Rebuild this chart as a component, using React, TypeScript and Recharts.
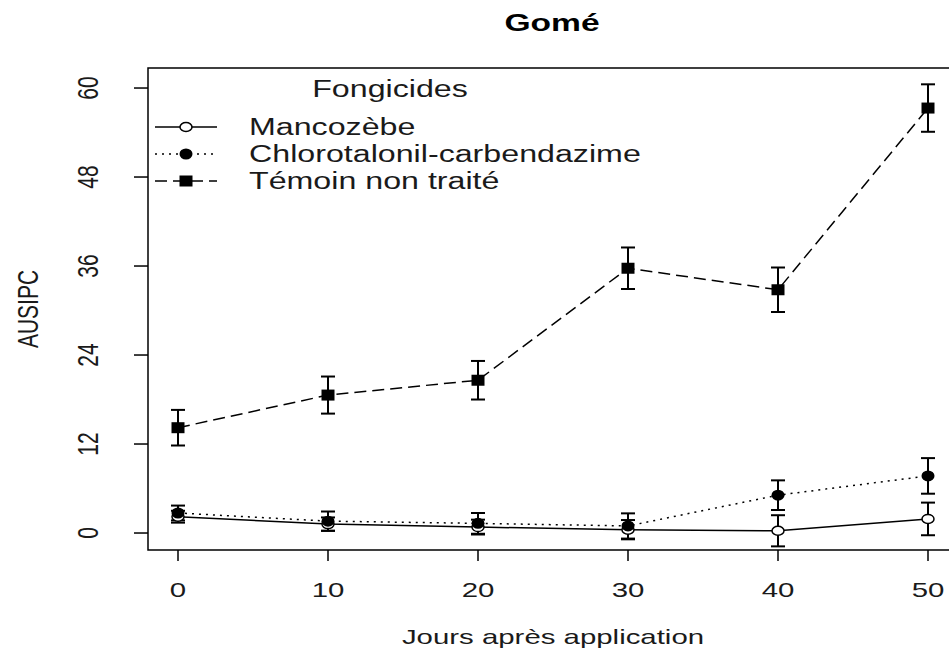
import React from 'react';
import { LineChart, Line, XAxis, YAxis, ErrorBar, ReferenceArea, Legend } from 'recharts';

// Jours après application
const days = [0, 10, 20, 30, 40, 50];
// AUSIPC, moyenne et erreur par fongicide
const mancozebe = [2.2, 1.2, 0.8, 0.45, 0.3, 1.9];
const mancozebeErr = [0.8, 0.9, 1.0, 1.3, 2.1, 2.2];
const chloro = [2.7, 1.6, 1.3, 0.95, 5.1, 7.7];
const chloroErr = [1.0, 1.3, 1.4, 1.7, 2.0, 2.4];
const temoin = [14.2, 18.6, 20.6, 35.7, 32.8, 57.3];
const temoinErr = [2.4, 2.5, 2.6, 2.8, 3.0, 3.2];
const xTicks = [0, 10, 20, 30, 40, 50];
const yTicks = [0, 12, 24, 36, 48, 60];

const data = days.map((d, i) => ({
  day: d,
  mancozebe: mancozebe[i],
  mancozebeErr: mancozebeErr[i],
  chloro: chloro[i],
  chloroErr: chloroErr[i],
  temoin: temoin[i],
  temoinErr: temoinErr[i],
}));

const FONT = '"Liberation Sans", Arial, sans-serif';
const INK = '#1a1a1a';
const SX = 1.4; // the picture is stretched sideways

type Kind = 'open' | 'disc' | 'square';

const series: { key: string; name: string; dash?: string; kind: Kind }[] = [
  { key: 'mancozebe', name: 'Mancozèbe', kind: 'open' },
  { key: 'chloro', name: 'Chlorotalonil-carbendazime', dash: '2 5', kind: 'disc' },
  { key: 'temoin', name: 'Témoin non traité', dash: '12 6', kind: 'square' },
];

const Marker = ({ cx, cy, kind }: { cx: number; cy: number; kind: Kind }) => {
  if (cx == null || cy == null) return null;
  if (kind === 'square') return <rect x={cx - 6.5} y={cy - 5.5} width={13} height={11} fill="#000" />;
  if (kind === 'disc') return <ellipse cx={cx} cy={cy} rx={6.5} ry={5.5} fill="#000" />;
  return <ellipse cx={cx} cy={cy} rx={6} ry={4.5} fill="#fff" stroke="#000" strokeWidth={1.5} />;
};

const XTick = (props: any) => {
  const { x, y, payload } = props;
  return (
    <text transform={`translate(${x},${y + 34}) scale(${SX},1)`} textAnchor="middle"
      fontFamily={FONT} fontSize={21} fill={INK}>{payload.value}</text>
  );
};

const YTick = (props: any) => {
  const { x, y, payload } = props;
  return (
    <text transform={`translate(${x - 34},${y}) scale(${SX},1) rotate(-90)`} textAnchor="middle"
      fontFamily={FONT} fontSize={21} fill={INK}>{payload.value}</text>
  );
};

const XLabel = (props: any) => {
  const { x, y, width } = props.viewBox;
  return (
    <text transform={`translate(${x + width / 2},${y + 94}) scale(${SX},1)`} textAnchor="middle"
      fontFamily={FONT} fontSize={21} fill={INK}>Jours après application</text>
  );
};

const YLabel = (props: any) => {
  const { y, height } = props.viewBox;
  return (
    <text transform={`translate(38,${y + height / 2}) scale(${SX},1) rotate(-90)`} textAnchor="middle"
      fontFamily={FONT} fontSize={21} fill={INK}>AUSIPC</text>
  );
};

const LegendBox = () => (
  <svg width={949} height={220} style={{ display: 'block' }}>
    <text transform={`translate(552,31) scale(${SX},1)`} textAnchor="middle" fontFamily={FONT}
      fontSize={24} fontWeight="bold" fill="#000">Gomé</text>
    <text transform={`translate(390,97) scale(${SX},1)`} textAnchor="middle" fontFamily={FONT}
      fontSize={23} fill={INK}>Fongicides</text>
    {series.map((s, i) => {
      const cy = 127 + i * 27;
      return (
        <g key={s.key}>
          <line x1={155} x2={217} y1={cy} y2={cy} stroke="#000" strokeWidth={1.5} strokeDasharray={s.dash} />
          <Marker cx={186} cy={cy} kind={s.kind} />
          <text transform={`translate(249,${cy + 8}) scale(${SX},1)`} fontFamily={FONT}
            fontSize={23} fill={INK}>{s.name}</text>
        </g>
      );
    })}
  </svg>
);

export default function App() {
  return (
    <div style={{ position: 'absolute', left: 0, top: 0, width: 949, height: 652, overflow: 'hidden', background: '#fff' }}>
      <LineChart width={970} height={652} data={data} margin={{ top: 68, right: 12, bottom: 0, left: 0 }}>
        <XAxis dataKey="day" type="number" domain={[-2, 52]} ticks={xTicks} allowDataOverflow
          axisLine={false} tickSize={11} tickLine={{ stroke: '#000', strokeWidth: 1.5 }} tick={<XTick />}
          height={102} label={<XLabel />} />
        <YAxis type="number" domain={[-2.29, 62.7]} ticks={yTicks} allowDataOverflow
          axisLine={false} tickSize={14} tickLine={{ stroke: '#000', strokeWidth: 1.5 }} tick={<YTick />}
          width={148} label={<YLabel />} />
        <ReferenceArea x1={-2} x2={52} y1={-2.29} y2={62.7} fill="none" fillOpacity={0}
          stroke="#000" strokeWidth={1.5} />
        {series.map((s) => (
          <Line key={s.key} dataKey={s.key} name={s.name} type="linear" stroke="#000" strokeWidth={1.5}
            strokeDasharray={s.dash} isAnimationActive={false}
            dot={(p: any) => <Marker key={`${s.key}-${p.index}`} cx={p.cx} cy={p.cy} kind={s.kind} />}
            activeDot={false}>
            <ErrorBar dataKey={`${s.key}Err`} direction="y" width={7} stroke="#000" strokeWidth={2}
              isAnimationActive={false} />
          </Line>
        ))}
        <Legend layout="horizontal" verticalAlign="middle" align="center" content={<LegendBox />}
          wrapperStyle={{ left: 0, top: 0, width: 949, height: 220, pointerEvents: 'none' }} />
      </LineChart>
    </div>
  );
}
